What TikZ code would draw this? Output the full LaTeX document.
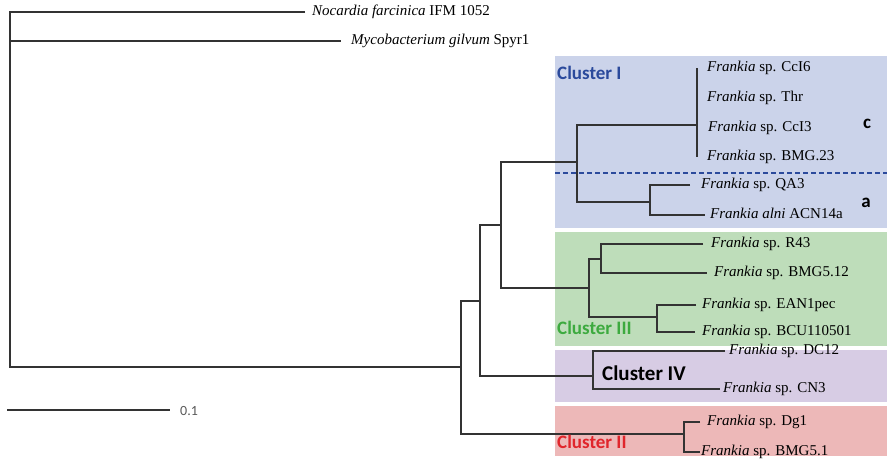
\documentclass[tikz,border=0pt]{standalone}
\usepackage{fontspec}
\setmainfont{Liberation Serif}
\newfontfamily\clfont{Carlito}
\definecolor{boxI}{HTML}{CBD3EA}
\definecolor{boxIII}{HTML}{BEDDBA}
\definecolor{boxIV}{HTML}{D7CCE4}
\definecolor{boxII}{HTML}{EDB8B8}
\definecolor{txI}{HTML}{2B4A9C}
\definecolor{txIII}{HTML}{3DAA3F}
\definecolor{txII}{HTML}{E0262C}
\definecolor{treeline}{HTML}{333333}
\tikzset{
  tree/.style={line width=1.3pt, draw=treeline},
  leaf/.style={anchor=west, inner sep=0pt, font=\fontsize{15}{18}\selectfont, text height=10pt, text depth=3pt},
  cluster/.style={anchor=base west, inner sep=0pt, font=\clfont\bfseries\fontsize{19}{22}\selectfont},
  sublabel/.style={anchor=center, inner sep=0pt, font=\clfont\bfseries\fontsize{19}{22}\selectfont},
  region/.style={draw=none}
}
\begin{document}
\begin{tikzpicture}[x=1pt,y=-1pt]
\useasboundingbox (0,0) rectangle (889,459);
% cluster boxes
\fill[boxI]   (555,56)  rectangle (887,228);
\fill[boxIII] (555,232) rectangle (887,346);
\fill[boxIV]  (555,350) rectangle (887,402);
\fill[boxII]  (555,406) rectangle (887,456);
\coordinate (dashL) at (555,173);
\coordinate (dashR) at (887,173);
\draw[txI, line width=1.2pt, dash pattern=on 5pt off 3pt] (dashL) -- (dashR);
% internal nodes
\coordinate (root) at (10,41);
\coordinate (n1) at (461,367);
\coordinate (n2) at (480,301);
\coordinate (c2) at (684,434);
\coordinate (n3) at (501,225);
\coordinate (c4) at (593,376);
\coordinate (c1) at (577,162);
\coordinate (c3) at (589,288);
\coordinate (c3a) at (601,259);
\coordinate (c3b) at (657,317);
\coordinate (cc) at (697,125);
\coordinate (ccTop) at (697,68);
\coordinate (ccBot) at (697,157);
\coordinate (ca) at (650,202);
% leaf ends
\coordinate (nocE) at (305,12);
\coordinate (mycE) at (341,41);
\coordinate (dg1E) at (700,422);
\coordinate (bmg51E) at (700,452);
\coordinate (dc12E) at (725,351);
\coordinate (cn3E) at (720,389);
\coordinate (r43E) at (703,244);
\coordinate (bmg512E) at (707,273);
\coordinate (eanE) at (696,305);
\coordinate (bcuE) at (695,332);
\coordinate (qa3E) at (690,185);
\coordinate (acnE) at (705,215);
% branches
\draw[tree] (nocE) -| (root) |- (n1);
\draw[tree] (root) -- (mycE);
\draw[tree] (n2) -| (n1) |- (c2);
\draw[tree] (dg1E) -| (c2) |- (bmg51E);
\draw[tree] (n3) -| (n2) |- (c4);
\draw[tree] (dc12E) -| (c4) |- (cn3E);
\draw[tree] (c1) -| (n3) |- (c3);
\draw[tree] (c3a) -| (c3) |- (c3b);
\draw[tree] (r43E) -| (c3a) |- (bmg512E);
\draw[tree] (eanE) -| (c3b) |- (bcuE);
\draw[tree] (cc) -| (c1) |- (ca);
\draw[tree] (ccTop) -- (ccBot);
\draw[tree] (qa3E) -| (ca) |- (acnE);
% leaf labels
\node[leaf] (noc) at (312,12) {\textit{Nocardia farcinica} IFM 1052};
\node[leaf] (myc) at (351,41) {\textit{Mycobacterium gilvum} Spyr1};
\node[leaf] (cci6) at (707,68) {\textit{Frankia} sp. CcI6};
\node[leaf] (thr) at (707,98) {\textit{Frankia} sp. Thr};
\node[leaf] (cci3) at (708,128) {\textit{Frankia} sp. CcI3};
\node[leaf] (bmg23) at (707,157) {\textit{Frankia} sp. BMG.23};
\node[leaf] (qa3) at (701,185) {\textit{Frankia} sp. QA3};
\node[leaf] (acn) at (710,215) {\textit{Frankia alni} ACN14a};
\node[leaf] (r43) at (711,244) {\textit{Frankia} sp. R43};
\node[leaf] (bmg512) at (714,273) {\textit{Frankia} sp. BMG5.12};
\node[leaf] (ean) at (702,305) {\textit{Frankia} sp. EAN1pec};
\node[leaf] (bcu) at (702,332) {\textit{Frankia} sp. BCU110501};
\node[leaf] (dc12) at (729,351) {\textit{Frankia} sp. DC12};
\node[leaf] (cn3) at (723,389) {\textit{Frankia} sp. CN3};
\node[leaf] (dg1) at (707,422) {\textit{Frankia} sp. Dg1};
\node[leaf] (bmg51) at (701,452) {\textit{Frankia} sp. BMG5.1};
% cluster labels
\node[cluster, text=txI] (clI) at (557,79) {Cluster I};
\node[cluster, text=txIII] (clIII) at (557,334) {Cluster III};
\node[cluster, text=black, font=\clfont\bfseries\fontsize{21}{24}\selectfont] (clIV) at (602,380) {Cluster IV};
\node[cluster, text=txII] (clII) at (557,448) {Cluster II};
\node[sublabel] (subc) at (867,124) {c};
\node[sublabel] (suba) at (866,203) {a};
% scale bar
\coordinate (sbL) at (7,410);
\coordinate (sbR) at (170,410);
\draw[line width=2.5pt, draw=treeline] (sbL) -- (sbR);
\node[anchor=west, inner sep=0pt, text=black!65, font=\clfont\fontsize{14}{16}\selectfont] (sbtext) at (180,411) {0.1};
\end{tikzpicture}
\end{document}
